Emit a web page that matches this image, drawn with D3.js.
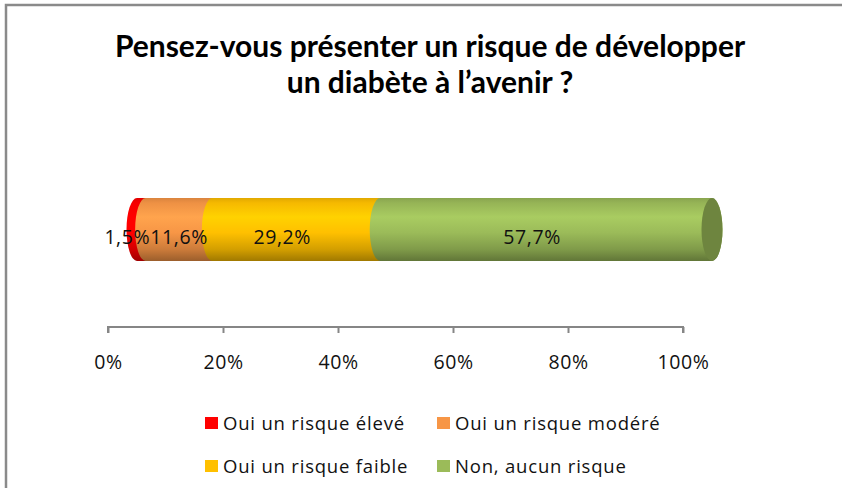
<!DOCTYPE html>
<meta charset="utf-8">
<style type="text/css">
body { margin: 0; background: #fff; }
.title { font-family: Lato, "Open Sans", sans-serif; font-weight: bold; font-size: 30px; fill: #000; }
.lbl { font-family: "Open Sans", sans-serif; font-size: 19.5px; letter-spacing: 0.6px; fill: #111; }
.axis path, .axis line { stroke: #868686; stroke-width: 2px; }
.axis text { font-family: "Open Sans", sans-serif; font-size: 19.5px; letter-spacing: 0.6px; fill: #111; }
.legend text { font-family: "Open Sans", sans-serif; font-size: 18.5px; letter-spacing: 0.8px; fill: #111; }
</style>
<body></body>
<script src="https://cdn.jsdelivr.net/npm/d3@7"></script>
<script>

// chart data
var titleLines = ["Pensez-vous présenter un risque de développer", "un diabète à l\u2019avenir ?"];
var categories = ["Oui un risque élevé", "Oui un risque modéré", "Oui un risque faible", "Non, aucun risque"];
var values = [1.5, 11.6, 29.2, 57.7];
var colors = ["#ff0000", "#f79646", "#ffc000", "#9bbb59"];
var tickValues = [0, 20, 40, 60, 80, 100];
var labelFormat = function(v) { return String(v).replace(".", ",") + "%"; };

var width = 842, height = 488;

var svg = d3.select("body").append("svg")
    .attr("width", width)
    .attr("height", height);

// outer chart frame (right / bottom edges fall outside the picture)
svg.append("rect")
    .attr("x", 6).attr("y", 5)
    .attr("width", 1000).attr("height", 700)
    .attr("fill", "#fff")
    .attr("stroke", "#8a8a8a")
    .attr("stroke-width", 2.5);

// title
svg.selectAll(".title").data(titleLines)
    .enter().append("text")
    .attr("class", "title")
    .attr("x", 430)
    .attr("y", function(d, i) { return 57 + i * 36; })
    .attr("text-anchor", "middle")
    .text(function(d) { return d; });

// scales
var x = d3.scaleLinear().domain([0, 100]).range([108, 683]);
var y = d3.scaleBand().domain(["q"]).range([198, 261]);
var depth = 29;            // 3D offset of the cylinder vs. the axis
var ry = y.bandwidth() / 2, rx = 10.5;
var yt = y("q"), yb = yt + y.bandwidth();

// stacked segments
var ends = d3.cumsum(values);
var segs = values.map(function(v, i) {
    return { name: categories[i], value: v, color: colors[i], start: ends[i] - v, end: ends[i] };
});

// vertical shading gradient for each colour
var defs = svg.append("defs");
segs.forEach(function(s, i) {
    var c = d3.color(s.color);
    var g = defs.append("linearGradient")
        .attr("id", "grad" + i)
        .attr("gradientUnits", "userSpaceOnUse")
        .attr("x1", 0).attr("y1", yt).attr("x2", 0).attr("y2", yb);
    var stops = [[0, c.darker(0.35)], [0.08, c.darker(0.1)], [0.3, c.brighter(0.25)], [0.55, c],
                 [0.82, c.darker(0.55)], [1, c.darker(1.3)]];
    stops.forEach(function(st) {
        g.append("stop").attr("offset", st[0]).attr("stop-color", st[1].formatHex());
    });
});

function segPath(x0, x1) {
    return "M" + x0 + "," + yt + "L" + x1 + "," + yt +
        "A" + rx + "," + ry + " 0 0 1 " + x1 + "," + yb +
        "L" + x0 + "," + yb +
        "A" + rx + "," + ry + " 0 0 1 " + x0 + "," + yt + "Z";
}

svg.selectAll(".seg").data(segs)
    .enter().append("path")
    .attr("class", "seg")
    .attr("fill", function(d, i) { return "url(#grad" + i + ")"; })
    .attr("d", function(d) { return segPath(x(d.start) + depth, x(d.end) + depth); });

// end cap of the cylinder
var last = segs[segs.length - 1];
svg.append("ellipse")
    .attr("cx", x(last.end) + depth)
    .attr("cy", yt + ry)
    .attr("rx", rx).attr("ry", ry)
    .attr("fill", d3.color(last.color).darker(0.95).formatHex());

// data labels, pushed right when they would overlap
var prevRight = -Infinity;
segs.forEach(function(d) {
    var t = svg.append("text")
        .attr("class", "lbl")
        .attr("y", yt + ry + 14)
        .attr("text-anchor", "middle")
        .text(labelFormat(d.value));
    var w = t.node().getComputedTextLength();
    var cx = x((d.start + d.end) / 2) + 15;
    if (cx - w / 2 < prevRight) cx = prevRight + w / 2;
    t.attr("x", cx);
    prevRight = cx + w / 2;
});

// x axis
var axis = svg.append("g")
    .attr("class", "axis")
    .attr("transform", "translate(0,327)")
    .call(d3.axisBottom(x)
        .tickValues(tickValues)
        .tickSize(6)
        .tickSizeOuter(6)
        .tickFormat(function(d) { return d + "%"; }));
axis.select(".domain").attr("d", "M" + x(0) + ",6V0H" + x(100) + "V6");
axis.selectAll("text").attr("dy", 0).attr("y", 42);

// legend, two columns by two rows
var legend = svg.selectAll(".legend").data(segs)
    .enter().append("g")
    .attr("class", "legend")
    .attr("transform", function(d, i) {
        return "translate(" + (i % 2 ? 437 : 205) + "," + (Math.floor(i / 2) * 43 + 417) + ")";
    });

legend.append("rect")
    .attr("width", 13).attr("height", 12)
    .attr("fill", function(d) { return d.color; });

legend.append("text")
    .attr("x", 18)
    .attr("y", 13)
    .text(function(d) { return d.name; });

</script>
